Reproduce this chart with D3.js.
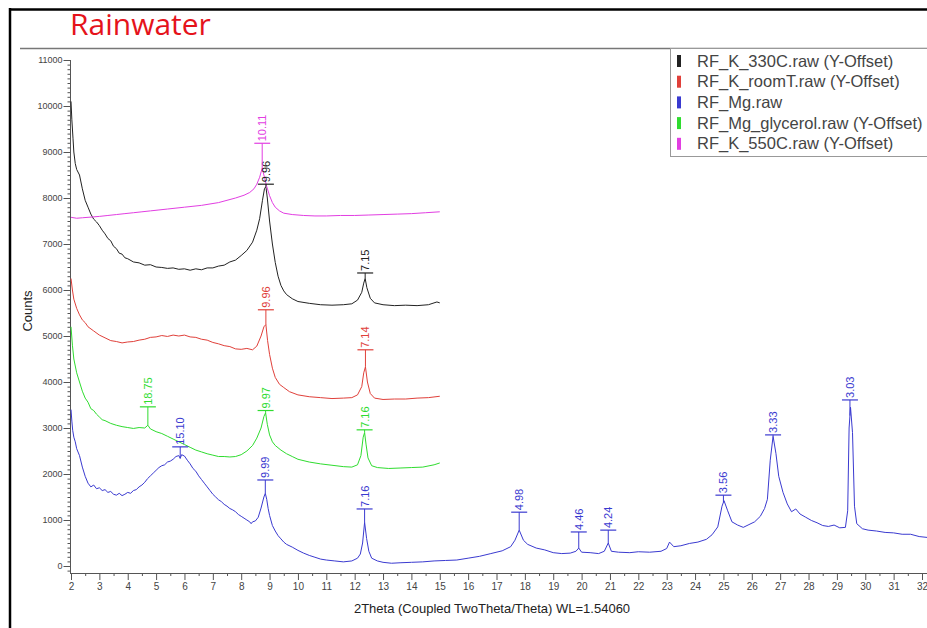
<!DOCTYPE html>
<html>
<head>
<meta charset="utf-8">
<script src="https://d3js.org/d3.v7.min.js"></script>
<style>
  body { margin: 0; background: #fff; }
  svg { display: block; font-family: "Liberation Sans", Arial, sans-serif; }
</style>
</head>
<body>
<div id="chart"></div>
<script>
// ---- data (2theta, counts) ----
var k330 = [[2.0,10100],[2.03,9700],[2.07,9300],[2.1,9000],[2.15,8750],[2.2,8620],[2.3,8500],[2.4,8200],[2.5,7950],[2.6,7800],[2.7,7650],[2.8,7540],[2.9,7480],[3.0,7400],[3.1,7300],[3.2,7220],[3.3,7120],[3.4,7070],[3.5,6950],[3.6,6900],[3.7,6800],[3.8,6780],[3.9,6700],[4.0,6680],[4.2,6610],[4.4,6590],[4.6,6540],[4.8,6550],[5.0,6500],[5.2,6490],[5.4,6470],[5.6,6480],[5.8,6450],[6.0,6460],[6.2,6430],[6.4,6460],[6.6,6440],[6.8,6480],[7.0,6480],[7.2,6520],[7.4,6540],[7.6,6610],[7.8,6650],[8.0,6750],[8.2,6860],[8.4,7040],[8.55,7300],[8.65,7550],[8.75,7950],[8.82,8200],[8.87,8250],[8.92,8000],[9.0,7500],[9.1,7000],[9.2,6600],[9.3,6300],[9.4,6100],[9.5,5980],[9.6,5900],[9.8,5810],[10.0,5750],[10.4,5710],[10.8,5680],[11.2,5670],[11.6,5680],[11.9,5700],[12.1,5780],[12.25,5950],[12.32,6150],[12.37,6250],[12.43,6050],[12.55,5820],[12.7,5720],[13.0,5680],[13.4,5660],[13.8,5670],[14.2,5660],[14.6,5680],[14.9,5740],[15.0,5720]];

var kRoomT = [[2.0,6250],[2.05,6000],[2.1,5800],[2.2,5600],[2.3,5460],[2.4,5350],[2.5,5290],[2.6,5200],[2.8,5110],[3.0,5020],[3.2,4960],[3.4,4900],[3.6,4880],[3.8,4850],[4.0,4870],[4.2,4880],[4.4,4910],[4.6,4930],[4.8,4970],[5.0,4980],[5.2,5010],[5.4,4990],[5.6,5020],[5.8,5000],[6.0,5020],[6.2,4980],[6.4,4970],[6.6,4930],[6.8,4910],[7.0,4860],[7.2,4830],[7.4,4790],[7.6,4770],[7.8,4720],[8.0,4710],[8.2,4730],[8.4,4700],[8.55,4780],[8.7,5000],[8.8,5200],[8.87,5250],[8.93,4900],[9.0,4600],[9.1,4300],[9.2,4100],[9.35,3950],[9.5,3880],[9.7,3790],[10.0,3720],[10.4,3680],[10.8,3660],[11.2,3640],[11.6,3650],[11.9,3660],[12.1,3720],[12.25,3900],[12.32,4200],[12.38,4330],[12.45,4000],[12.55,3750],[12.7,3650],[13.0,3620],[13.4,3630],[13.8,3630],[14.2,3650],[14.6,3660],[15.0,3690]];

var mg = [[2.0,3400],[2.03,3150],[2.06,2950],[2.1,2800],[2.15,2700],[2.2,2550],[2.3,2400],[2.4,2150],[2.5,1950],[2.6,1800],[2.7,1720],[2.8,1760],[2.9,1680],[3.0,1700],[3.1,1640],[3.2,1660],[3.3,1600],[3.4,1620],[3.5,1560],[3.6,1540],[3.7,1580],[3.8,1530],[3.9,1560],[4.0,1600],[4.1,1580],[4.2,1640],[4.3,1660],[4.4,1720],[4.5,1760],[4.6,1820],[4.7,1900],[4.8,1960],[4.9,2020],[5.0,2080],[5.1,2140],[5.2,2180],[5.3,2200],[5.4,2260],[5.5,2280],[5.6,2320],[5.7,2380],[5.8,2400],[5.85,2340],[5.9,2420],[6.0,2390],[6.1,2300],[6.2,2220],[6.3,2120],[6.4,2060],[6.5,1960],[6.6,1880],[6.7,1800],[6.8,1720],[6.9,1640],[7.0,1560],[7.1,1500],[7.2,1440],[7.3,1400],[7.4,1340],[7.5,1300],[7.6,1250],[7.7,1220],[7.8,1180],[7.9,1120],[8.0,1080],[8.1,1040],[8.2,1000],[8.3,960],[8.35,920],[8.4,960],[8.5,980],[8.6,1060],[8.7,1260],[8.8,1500],[8.85,1580],[8.9,1450],[8.95,1250],[9.0,1100],[9.1,880],[9.2,760],[9.3,660],[9.4,590],[9.5,520],[9.6,470],[9.8,410],[10.0,340],[10.2,280],[10.4,230],[10.6,190],[10.8,150],[11.0,130],[11.3,110],[11.6,90],[11.9,110],[12.1,170],[12.2,260],[12.28,500],[12.35,950],[12.42,600],[12.5,320],[12.6,170],[12.8,110],[13.0,80],[13.3,60],[13.6,70],[14.0,80],[14.4,90],[14.8,110],[15.2,120],[15.6,130],[16.0,170],[16.4,210],[16.8,270],[17.2,330],[17.5,420],[17.65,560],[17.8,780],[17.95,560],[18.1,470],[18.4,390],[18.7,350],[19.0,290],[19.3,270],[19.6,280],[19.8,320],[19.9,390],[20.0,300],[20.3,290],[20.6,270],[20.8,320],[20.94,500],[21.05,320],[21.3,300],[21.7,290],[22.0,310],[22.4,300],[22.8,320],[23.0,380],[23.1,520],[23.25,420],[23.5,440],[23.8,490],[24.1,520],[24.4,580],[24.6,680],[24.8,850],[24.95,1300],[25.02,1420],[25.15,1200],[25.3,960],[25.5,890],[25.7,840],[25.9,900],[26.1,960],[26.3,1080],[26.45,1250],[26.55,1450],[26.65,2300],[26.75,2820],[26.85,2450],[26.95,1950],[27.1,1600],[27.25,1350],[27.4,1180],[27.55,1240],[27.7,1130],[27.9,1060],[28.1,990],[28.3,940],[28.5,880],[28.7,860],[28.9,890],[29.1,830],[29.3,840],[29.38,1200],[29.43,3000],[29.48,3450],[29.55,2900],[29.62,1300],[29.7,920],[29.9,810],[30.1,780],[30.4,760],[30.7,730],[31.0,720],[31.3,690],[31.6,690],[31.9,640],[32.2,620]];

var mgGlycerol = [[2.0,5200],[2.05,4800],[2.1,4500],[2.2,4200],[2.3,4000],[2.4,3800],[2.5,3650],[2.6,3560],[2.7,3420],[2.8,3380],[2.9,3300],[3.0,3240],[3.1,3180],[3.2,3160],[3.4,3100],[3.6,3060],[3.8,3030],[4.0,3010],[4.2,2990],[4.4,3010],[4.6,3000],[4.71,3060],[4.8,2980],[5.0,2920],[5.2,2880],[5.4,2820],[5.6,2760],[5.8,2700],[6.0,2640],[6.2,2580],[6.4,2520],[6.6,2480],[6.8,2440],[7.0,2410],[7.2,2380],[7.4,2380],[7.6,2370],[7.8,2380],[8.0,2420],[8.2,2500],[8.4,2620],[8.55,2780],[8.7,3000],[8.8,3250],[8.86,3330],[8.92,3080],[9.0,2850],[9.1,2700],[9.2,2620],[9.4,2520],[9.6,2440],[9.8,2380],[10.0,2320],[10.4,2260],[10.8,2220],[11.2,2190],[11.6,2160],[11.9,2150],[12.1,2200],[12.22,2400],[12.3,2800],[12.35,2900],[12.4,2650],[12.47,2350],[12.6,2180],[12.8,2140],[13.2,2120],[13.6,2130],[14.0,2140],[14.4,2150],[14.8,2200],[15.0,2240]];

var k550 = [[2.0,7580],[2.2,7560],[2.4,7570],[2.6,7580],[2.8,7590],[3.0,7600],[3.3,7620],[3.6,7640],[3.9,7660],[4.2,7680],[4.5,7700],[4.8,7720],[5.1,7740],[5.4,7760],[5.7,7780],[6.0,7800],[6.3,7820],[6.6,7840],[6.9,7870],[7.2,7900],[7.5,7950],[7.8,8000],[8.1,8060],[8.3,8120],[8.45,8200],[8.55,8300],[8.65,8450],[8.74,8650],[8.8,8500],[8.9,8250],[9.0,8050],[9.1,7900],[9.2,7800],[9.35,7720],[9.5,7670],[9.8,7640],[10.2,7620],[10.6,7610],[11.0,7610],[11.5,7620],[12.0,7620],[12.5,7630],[13.0,7640],[13.5,7650],[14.0,7660],[14.5,7680],[15.0,7700]];

// peak marks: [2theta, d-spacing label, marker height in counts]
var k330Peaks = [[8.87,"9.96",8300],[12.37,"7.15",6370]];
var kRoomTPeaks = [[8.87,"9.96",5570],[12.38,"7.14",4700]];
var mgPeaks = [[5.85,"15.10",2590],[8.85,"9.99",1870],[12.35,"7.16",1240],[17.8,"4.98",1170],[19.9,"4.46",740],[20.94,"4.24",780],[25.0,"3.56",1540],[26.75,"3.33",2850],[29.46,"3.03",3610]];
var mgGlycerolPeaks = [[4.71,"18.75",3460],[8.86,"9.97",3380],[12.35,"7.16",2960]];
var k550Peaks = [[8.74,"10.11",9190]];

var seriesNames = ["RF_K_330C.raw (Y-Offset)", "RF_K_roomT.raw (Y-Offset)", "RF_Mg.raw", "RF_Mg_glycerol.raw (Y-Offset)", "RF_K_550C.raw (Y-Offset)"];
var seriesColors = ["#222222", "#e0403a", "#3a3ad0", "#2fdc2f", "#e23ee2"];
var seriesData = [k330, kRoomT, mg, mgGlycerol, k550];
var seriesPeaks = [k330Peaks, kRoomTPeaks, mgPeaks, mgGlycerolPeaks, k550Peaks];

var yMajor = d3.range(0, 11001, 1000);
var xMajor = d3.range(2, 33, 1);

// ---- chart ----
var W = 927, H = 628;
var svg = d3.select("#chart").append("svg").attr("width", W).attr("height", H);

var x = d3.scaleLinear().domain([2, 32]).range([71, 922]);
var y = d3.scaleLinear().domain([0, 11000]).range([566, 60]);
var axisY0 = 573;

// frame + title
svg.append("line").attr("x1", 10).attr("x2", W).attr("y1", 9.5).attr("y2", 9.5)
  .attr("stroke", "#000").attr("stroke-width", 2.5);
svg.append("line").attr("x1", 10).attr("x2", 10).attr("y1", 8).attr("y2", H)
  .attr("stroke", "#000").attr("stroke-width", 2.5);
svg.append("line").attr("x1", 20).attr("x2", W).attr("y1", 48.5).attr("y2", 48.5)
  .attr("stroke", "#777").attr("stroke-width", 1.5);
svg.append("text").attr("x", 70).attr("y", 35)
  .style("font-family", "'Open Sans', sans-serif").style("font-size", "30px")
  .attr("fill", "#e5131b").text("Rainwater");

// y axis: minor ticks every 100, major every 1000
var gy = svg.append("g").attr("transform", "translate(70.5,0)");
gy.call(d3.axisLeft(y).tickValues(d3.range(-100, 11001, 100)).tickSize(3).tickFormat(""));
gy.select(".domain").remove();
gy.selectAll("line").attr("stroke", "#555");
var gyMaj = svg.append("g").attr("transform", "translate(70.5,0)");
gyMaj.call(d3.axisLeft(y).tickValues(yMajor).tickSize(7).tickPadding(1).tickFormat(d3.format("d")));
gyMaj.select(".domain").remove();
gyMaj.selectAll("line").attr("stroke", "#555");
gyMaj.selectAll("text").style("font-size", "9px").attr("fill", "#444")
  .style("font-family", "'Liberation Sans', Arial, sans-serif");
svg.append("line").attr("x1", 70.5).attr("x2", 70.5).attr("y1", y(11000)).attr("y2", axisY0)
  .attr("stroke", "#555");

// x axis: half-step minor ticks
var gx = svg.append("g").attr("transform", "translate(0," + axisY0 + ")");
gx.call(d3.axisBottom(x).tickValues(d3.range(2.5, 32, 1)).tickSize(3).tickFormat(""));
gx.select(".domain").remove();
gx.selectAll("line").attr("stroke", "#555");
var gxMaj = svg.append("g").attr("transform", "translate(0," + axisY0 + ")");
gxMaj.call(d3.axisBottom(x).tickValues(xMajor).tickSize(7).tickPadding(3).tickFormat(d3.format("d")));
gxMaj.select(".domain").remove();
gxMaj.selectAll("line").attr("stroke", "#555");
gxMaj.selectAll("text").style("font-size", "10px").attr("fill", "#444")
  .style("font-family", "'Liberation Sans', Arial, sans-serif");
svg.append("line").attr("x1", 70).attr("x2", W).attr("y1", axisY0 + 0.5).attr("y2", axisY0 + 0.5)
  .attr("stroke", "#555");

// axis titles
svg.append("text").attr("x", 492).attr("y", 613).attr("text-anchor", "middle")
  .style("font-size", "13px").attr("fill", "#222")
  .text("2Theta (Coupled TwoTheta/Theta) WL=1.54060");
svg.append("text").attr("transform", "translate(32,311) rotate(-90)").attr("text-anchor", "middle")
  .style("font-size", "13px").attr("fill", "#222").text("Counts");

// curves
var line = d3.line().x(function (d) { return x(d[0]); }).y(function (d) { return y(d[1]); });

function valueAt(data, t) {
  for (var i = 1; i < data.length; i++) {
    if (data[i][0] >= t) {
      var a = data[i - 1], b = data[i];
      return a[1] + (b[1] - a[1]) * (t - a[0]) / (b[0] - a[0]);
    }
  }
  return data[data.length - 1][1];
}

seriesData.forEach(function (data, i) {
  svg.append("path").datum(data).attr("d", line)
    .attr("fill", "none").attr("stroke", seriesColors[i]).attr("stroke-width", 1);
});

// peak marks
seriesPeaks.forEach(function (peaks, i) {
  var c = seriesColors[i];
  peaks.forEach(function (p) {
    var px = x(p[0]), py = y(p[2]);
    var pv = y(valueAt(seriesData[i], p[0]));
    svg.append("line").attr("x1", px).attr("x2", px).attr("y1", py).attr("y2", Math.max(py, pv))
      .attr("stroke", c).attr("stroke-width", 1);
    svg.append("line").attr("x1", px - 8).attr("x2", px + 8).attr("y1", py).attr("y2", py)
      .attr("stroke", c).attr("stroke-width", 1.2);
    svg.append("text").attr("transform", "translate(" + (px + 4) + "," + (py - 2) + ") rotate(-90)")
      .style("font-size", "11px").attr("fill", c).text(p[1]);
  });
});

// legend
var lg = svg.append("g");
lg.append("rect").attr("x", 670.5).attr("y", 48.5).attr("width", 300).attr("height", 108)
  .attr("fill", "#fff").attr("stroke", "#999");
seriesNames.forEach(function (name, i) {
  var cy = 61 + i * 20.7;
  lg.append("rect").attr("x", 677).attr("y", cy - 6).attr("width", 4).attr("height", 12)
    .attr("fill", seriesColors[i]);
  lg.append("text").attr("x", 697).attr("y", cy + 5.5)
    .style("font-size", "16.5px").attr("fill", "#444").text(name);
});
</script>
</body>
</html>
